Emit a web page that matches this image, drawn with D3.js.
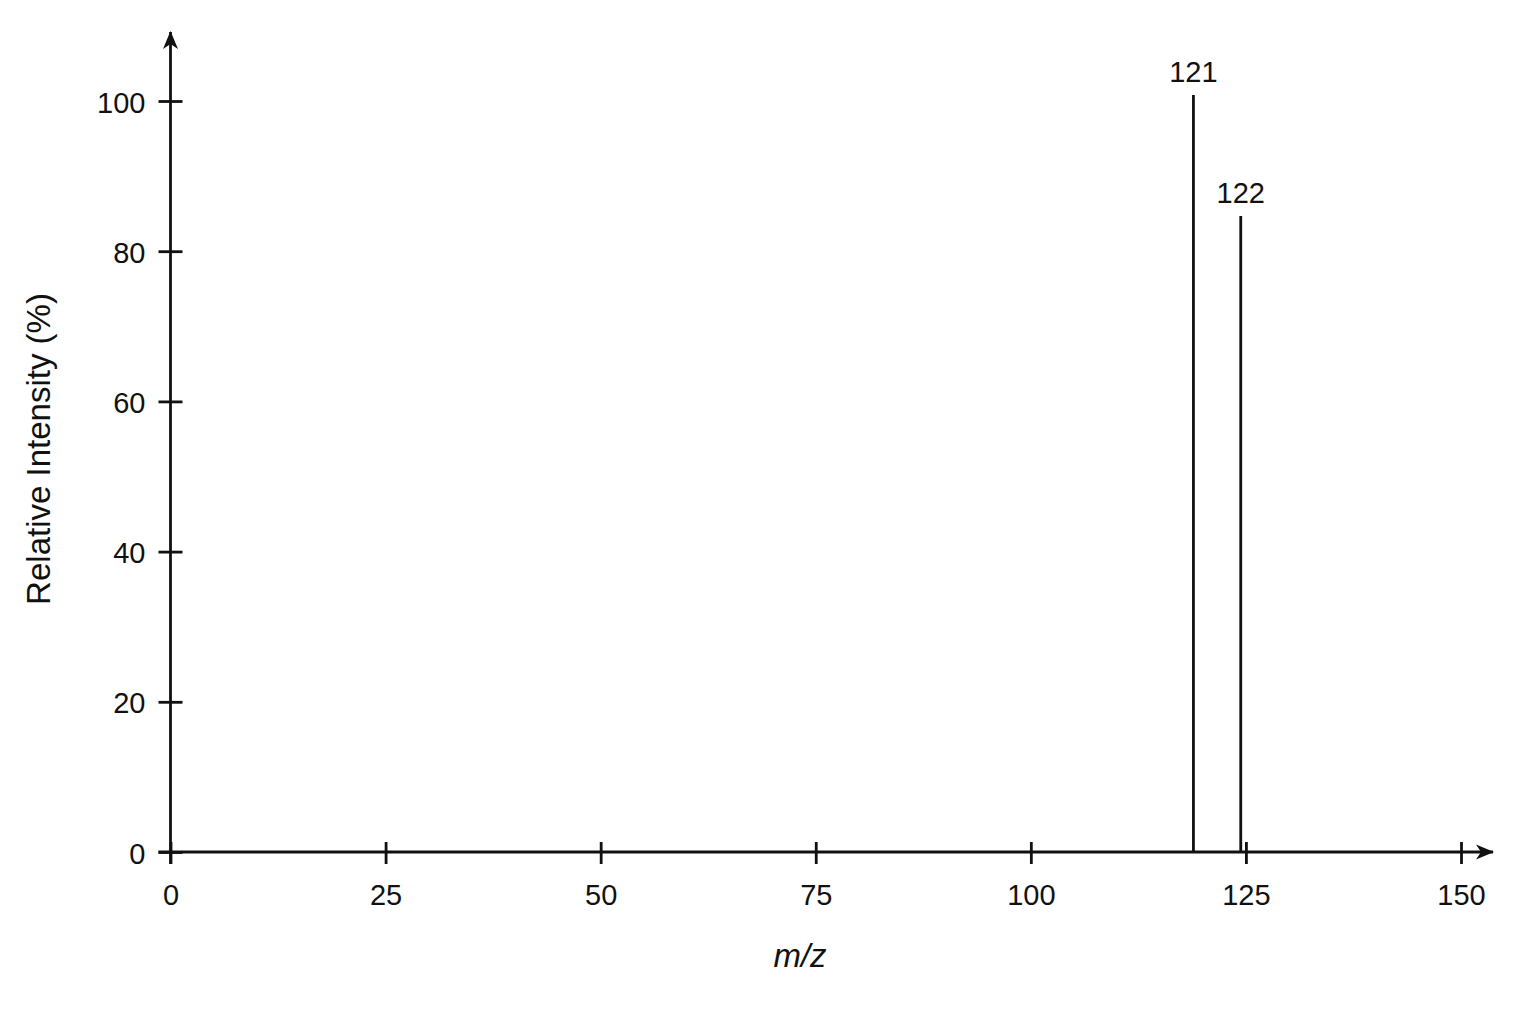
<!DOCTYPE html>
<html>
<head>
<meta charset="utf-8">
<script src="https://cdn.jsdelivr.net/npm/d3@7"></script>
<style>
  html, body { margin: 0; padding: 0; background: #fff; }
  svg { display: block; font-family: "Liberation Sans", Arial, sans-serif; }
</style>
</head>
<body>
<div id="chart"></div>
<script>
// Peaks as drawn in the picture (stick positions)
const peakMz = [118.9, 124.4];
const peakIntensity = [100.8, 84.7];
const peakLabels = ["121", "122"];

const xTicks = [0, 25, 50, 75, 100, 125, 150];
const yTicks = [0, 20, 40, 60, 80, 100];

const width = 1536;
const height = 1024;
const ink = "#111";
const lineW = 2.8;

const svg = d3
  .select("#chart")
  .append("svg")
  .attr("width", width)
  .attr("height", height);

svg.append("rect").attr("width", width).attr("height", height).attr("fill", "#fff");

const x = d3.scaleLinear().domain([0, 150]).range([170.5, 1461]);
const y = d3.scaleLinear().domain([0, 100]).range([852, 101]);

// arrow head with a notched back
svg
  .append("defs")
  .append("marker")
  .attr("id", "arrow")
  .attr("markerUnits", "userSpaceOnUse")
  .attr("viewBox", "-20 -10 22 20")
  .attr("refX", 0)
  .attr("refY", 0)
  .attr("markerWidth", 22)
  .attr("markerHeight", 20)
  .attr("orient", "auto")
  .append("path")
  .attr("d", "M1,0 L-17,-7.5 L-12,0 L-17,7.5 Z")
  .attr("fill", ink);

// x axis
const xAxis = svg
  .append("g")
  .attr("transform", `translate(0, ${y(0)})`)
  .call(d3.axisBottom(x).tickValues(xTicks).tickSize(12).tickPadding(20));

xAxis.select(".domain").remove();
xAxis.selectAll(".tick line").attr("y1", -10).attr("stroke", ink).attr("stroke-width", lineW);
xAxis
  .selectAll(".tick text")
  .attr("fill", ink)
  .style("font-size", "29px")
  .attr("dy", "0.71em");

// y axis
const yAxis = svg
  .append("g")
  .attr("transform", `translate(${x(0)}, 0)`)
  .call(d3.axisLeft(y).tickValues(yTicks).tickSize(12).tickPadding(13));

yAxis.select(".domain").remove();
yAxis.selectAll(".tick line").attr("x1", 12).attr("stroke", ink).attr("stroke-width", lineW);
yAxis
  .selectAll(".tick text")
  .attr("fill", ink)
  .style("font-size", "29px")
  .attr("dy", "0.38em");

// axis lines with arrows
svg
  .append("line")
  .attr("x1", x(0) - 12)
  .attr("x2", 1493)
  .attr("y1", y(0))
  .attr("y2", y(0))
  .attr("stroke", ink)
  .attr("stroke-width", lineW)
  .attr("marker-end", "url(#arrow)");

svg
  .append("line")
  .attr("x1", x(0))
  .attr("x2", x(0))
  .attr("y1", y(0) + 12)
  .attr("y2", 32)
  .attr("stroke", ink)
  .attr("stroke-width", lineW)
  .attr("marker-end", "url(#arrow)");

// peaks
const peaks = peakMz.map((mz, i) => ({
  mz,
  intensity: peakIntensity[i],
  label: peakLabels[i],
}));

svg
  .selectAll("line.peak")
  .data(peaks)
  .enter()
  .append("line")
  .attr("class", "peak")
  .attr("x1", (d) => x(d.mz))
  .attr("x2", (d) => x(d.mz))
  .attr("y1", y(0))
  .attr("y2", (d) => y(d.intensity))
  .attr("stroke", ink)
  .attr("stroke-width", lineW);

svg
  .selectAll("text.peak-label")
  .data(peaks)
  .enter()
  .append("text")
  .attr("class", "peak-label")
  .attr("x", (d) => x(d.mz))
  .attr("y", (d) => y(d.intensity) - 13)
  .attr("text-anchor", "middle")
  .attr("fill", ink)
  .style("font-size", "29px")
  .text((d) => d.label);

// axis titles
svg
  .append("text")
  .attr("x", 800)
  .attr("y", 967)
  .attr("text-anchor", "middle")
  .attr("fill", ink)
  .style("font-size", "33px")
  .style("font-style", "italic")
  .text("m/z");

svg
  .append("text")
  .attr("transform", "translate(50, 449) rotate(-90)")
  .attr("text-anchor", "middle")
  .attr("fill", ink)
  .style("font-size", "33px")
  .text("Relative Intensity (%)");
</script>
</body>
</html>
